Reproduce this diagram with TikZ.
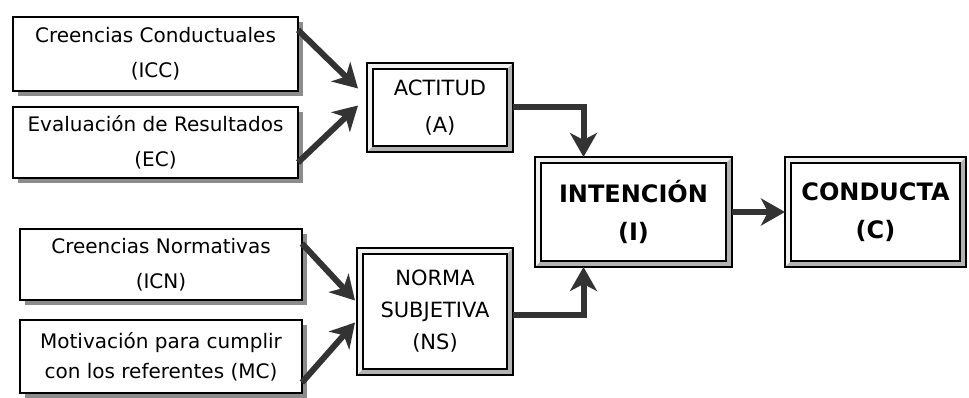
\documentclass[tikz,border=0pt]{standalone}
\usepackage{fontspec}
\setmainfont{DejaVu Sans}
\usetikzlibrary{arrows.meta,shadows,calc}
\definecolor{arrowgray}{HTML}{333333}
\definecolor{shadegray}{HTML}{8C8C8C}
\begin{document}
\begin{tikzpicture}[x=1pt,y=-1pt,
  every node/.style={outer sep=0pt, inner sep=0pt, align=center},
  srcbox/.style={draw=black, line width=1.8pt, fill=white,
    font=\fontsize{20}{35}\selectfont,
    drop shadow={shadow xshift=5pt, shadow yshift=-5pt, fill=shadegray, opacity=1}},
  framebox/.style={draw=black, line width=1.5pt, fill=white,
    font=\fontsize{21}{37}\selectfont},
  bigbox/.style={framebox, font=\fontsize{24}{38}\selectfont\bfseries},
  flow/.style={draw=arrowgray, line width=6pt,
    -{Stealth[length=24pt,width=27pt,inset=7pt]}},
]
% canvas
\path[fill=white] (0,0) rectangle (969,398);

% input beliefs and evaluations
\node[srcbox, minimum width=285pt, minimum height=74pt] (cc) at (155.5,54)
  {Creencias Conductuales\\(ICC)};
\node[srcbox, minimum width=285pt, minimum height=71pt] (ec) at (155.5,142.5)
  {Evaluación de Resultados\\(EC)};
\node[srcbox, minimum width=282pt, minimum height=71pt] (icn) at (161,264.5)
  {Creencias Normativas\\(ICN)};
\node[srcbox, minimum width=282pt, minimum height=73pt, font=\fontsize{20}{30}\selectfont] (mc) at (161,356.5)
  {Motivación para cumplir\\con los referentes (MC)};

% framed constructs
\node[framebox, minimum width=146pt, minimum height=89pt] (act) at (440,107.5)
  {ACTITUD\\(A)};
\node[framebox, minimum width=156pt, minimum height=127pt, font=\fontsize{21}{32}\selectfont] (ns) at (435,311.5)
  {NORMA\\SUBJETIVA\\(NS)};
\node[bigbox, minimum width=197pt, minimum height=110pt] (int) at (633.5,212)
  {INTENCIÓN\\(I)};
\node[bigbox, minimum width=181pt, minimum height=110pt] (con) at (875.5,212)
  {CONDUCTA\\(C)};

% bevelled double frames
\foreach \n in {act,ns,int,con}{
  \fill[gray!12] (\n.south west) -- (\n.north west) -- (\n.north east)
    -- ([shift={(-6pt,-6pt)}]\n.north east) -- ([shift={(6pt,-6pt)}]\n.north west)
    -- ([shift={(6pt,6pt)}]\n.south west) -- cycle;
  \fill[gray!60] (\n.south west) -- (\n.south east) -- (\n.north east)
    -- ([shift={(-6pt,-6pt)}]\n.north east) -- ([shift={(-6pt,6pt)}]\n.south east)
    -- ([shift={(6pt,6pt)}]\n.south west) -- cycle;
  \draw[line width=1.3pt] ([shift={(6pt,6pt)}]\n.south west)
    rectangle ([shift={(-6pt,-6pt)}]\n.north east);
  \draw[line width=1.5pt] (\n.south west) rectangle (\n.north east);
}

% connectors
\draw[flow] ([yshift=24pt]cc.east) -- ([xshift=-9pt,yshift=19pt]act.west);
\draw[flow] ([yshift=-20pt]ec.east) -- ([xshift=-9pt,yshift=2pt]act.west);
\draw[flow] ([yshift=21pt]icn.east) -- ([xshift=-2pt,yshift=11pt]ns.west);
\draw[flow] ([yshift=-26pt]mc.east) -- ([xshift=-2pt,yshift=-11pt]ns.west);
\draw[flow] (act.east) -| ([xshift=-50pt]int.north);
\draw[flow] ([yshift=-3pt]ns.east) -| ([xshift=-50pt]int.south);
\draw[flow] (int.east) -- (con.west);
\end{tikzpicture}
\end{document}
